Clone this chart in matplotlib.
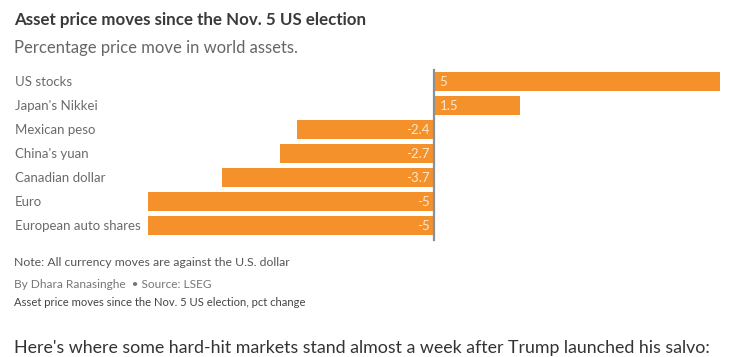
import matplotlib.pyplot as plt
from matplotlib.transforms import blended_transform_factory

# data
categories = ["US stocks", "Japan's Nikkei", "Mexican peso", "China's yuan",
              "Canadian dollar", "Euro", "European auto shares"]
values = [5, 1.5, -2.4, -2.7, -3.7, -5, -5]
value_labels = ["5", "1.5", "-2.4", "-2.7", "-3.7", "-5", "-5"]

W, H = 754, 357
plt.rcParams['font.family'] = ['Lato', 'DejaVu Sans']
fig = plt.figure(figsize=(W / 100, H / 100), dpi=100)

# axes: x from -5 (148px) to 5 (720px), rows 24px apart
left, right = 148, 720
top, bottom = 69.5, 237.5
ax = fig.add_axes([left / W, 1 - bottom / H, (right - left) / W, (bottom - top) / H])
ax.set_xlim(-5, 5)
ax.set_ylim(len(categories) - 0.5, -0.5)
ax.axis('off')

bar_color = '#F5912A'
ypos = list(range(len(categories)))
ax.barh(ypos, values, height=0.82, color=bar_color, zorder=2)
ax.plot([0, 0], [-0.5, len(categories) - 0.4], color='#8a8f96', lw=1.6, zorder=3,
        clip_on=False)

for y, v, lab in zip(ypos, values, value_labels):
    if v >= 0:
        ax.text(0.1, y, lab, ha='left', va='center', color='#fde6cf', fontsize=9.5)
    else:
        ax.text(-0.07, y, lab, ha='right', va='center', color='#fde6cf', fontsize=9.5)

trans = blended_transform_factory(fig.transFigure, ax.transData)
for y, name in zip(ypos, categories):
    ax.text(15 / W, y, name, transform=trans, ha='left', va='center',
            color='#6b6b6b', fontsize=9.5)

def px(x, y):
    return x / W, 1 - y / H

fig.text(*px(14, 20), "Asset price moves since the Nov. 5 US election", ha='left', va='center',
         fontsize=12.2, fontweight='bold', color='#3a3a3a')
fig.text(*px(14, 48), "Percentage price move in world assets.", ha='left', va='center',
         fontsize=12, color='#666666')
fig.text(*px(14, 263), "Note: All currency moves are against the U.S. dollar", ha='left',
         va='center', fontsize=8.8, color='#555555')
fig.text(*px(14, 284), "By Dhara Ranasinghe  \u2022 Source: LSEG", ha='left', va='center',
         fontsize=8.6, color='#777777')
fig.text(*px(14, 303), "Asset price moves since the Nov. 5 US election, pct change", ha='left',
         va='center', fontsize=8.1, color='#444444')
fig.text(*px(14, 348), "Here's where some hard-hit markets stand almost a week after Trump launched his salvo:",
         ha='left', va='center', fontsize=12.8, color='#333333')

fig.savefig('out.png', dpi=100)
